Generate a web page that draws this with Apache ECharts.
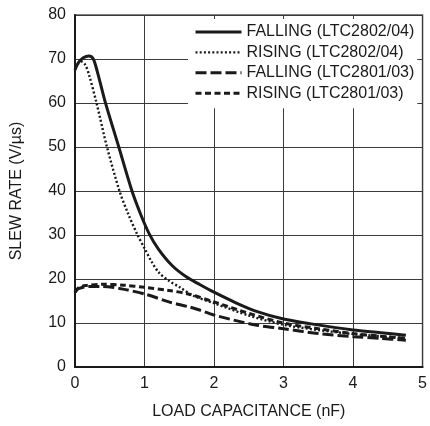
<!DOCTYPE html>
<html><head><meta charset="utf-8">
<script src="https://cdn.jsdelivr.net/npm/echarts@6/dist/echarts.min.js"></script>
<style>html,body{margin:0;padding:0;background:#fff}#c{width:430px;height:426px}</style>
</head><body><div id="c"></div>
<script>
// Data: [load capacitance nF, slew rate V/us]
const fallingLTC2802 = [[0,67.5],[0.05,69.2],[0.12,70.3],[0.2,70.7],[0.26,70.1],[0.32,67.2],[0.43,60.5],[0.63,50],[0.82,40],[0.95,34.5],[1.07,30.2],[1.2,26.8],[1.4,23],[1.6,20.5],[1.8,18.7],[2.0,17.0],[2.3,14.7],[2.6,12.7],[3.0,10.9],[3.4,9.8],[4.0,8.4],[4.4,7.8],[4.76,7.2]];
const risingLTC2802 = [[0,68],[0.05,69],[0.1,69.4],[0.15,68.6],[0.2,66.5],[0.31,60],[0.46,50],[0.64,40],[0.76,35],[0.9,30],[1.0,27],[1.1,24],[1.21,21.4],[1.35,19.6],[1.5,18.2],[1.7,16.2],[2.0,14.5],[2.5,11.7],[3.0,9.6],[3.5,8.4],[4.0,7.5],[4.4,7.0],[4.76,6.6]];
const fallingLTC2801 = [[0,17],[0.05,17.8],[0.2,18.3],[0.4,18.3],[0.69,17.7],[1.02,16.5],[1.35,14.8],[1.63,13.7],[1.78,13],[2.0,11.8],[2.58,9.6],[3.0,8.7],[3.5,7.6],[4.0,6.9],[4.4,6.5],[4.76,6.1]];
const risingLTC2801 = [[0,17],[0.05,18],[0.15,18.5],[0.4,18.8],[0.7,18.6],[1.0,18.1],[1.35,17.4],[1.63,16.6],[2.0,14.8],[2.5,12.2],[3.0,10.0],[3.5,8.7],[4.0,7.6],[4.4,7.0],[4.76,6.5]];
const seriesNames = ['FALLING (LTC2802/04)','RISING (LTC2802/04)','FALLING (LTC2801/03)','RISING (LTC2801/03)'];
const xTicks = [0,1,2,3,4,5];
const yTicks = [0,10,20,30,40,50,60,70,80];

const FONT = 'Liberation Sans, Arial, sans-serif';
const INK = '#1a1a1a';
const dashes = ['solid', [2,2.2], [11,4], [6,3.5]];
const widths = [3, 2.4, 3, 3];
const chart = echarts.init(document.getElementById('c'), null, {renderer:'canvas'});
const mk = (i, data) => ({
  name: seriesNames[i], type:'line', data, smooth:0.3, symbol:'none', z:3, color:INK,
  lineStyle:{color:INK, width:widths[i], type:dashes[i]}
});
chart.setOption({
  animation:false,
  backgroundColor:'#fff',
  grid:{left:75, right:3, top:15, bottom:59, show:true, borderColor:'#555', borderWidth:1.5},
  legend:{
    orient:'vertical', left:188, top:19, z:5,
    backgroundColor:'#fff', padding:[4,3,6,6],
    itemWidth:46, itemHeight:12, itemGap:2.4,
    itemStyle:{color:'rgba(0,0,0,0)', borderColor:'rgba(0,0,0,0)', borderWidth:0},
    textStyle:{fontFamily:FONT, fontSize:16, color:INK, lineHeight:18},
    data:seriesNames.map((n,i)=>({name:n, lineStyle:{width:widths[i], type:dashes[i], color:INK}}))
  },
  xAxis:{
    type:'value', min:xTicks[0], max:xTicks[xTicks.length-1], interval:1,
    name:'LOAD CAPACITANCE (nF)', nameLocation:'middle', nameGap:37,
    nameTextStyle:{fontFamily:FONT, fontSize:16, color:INK},
    axisLine:{show:true, lineStyle:{color:INK, width:2}},
    axisTick:{show:false},
    axisLabel:{fontFamily:FONT, fontSize:16, color:INK, margin:9},
    splitLine:{show:true, lineStyle:{color:'#3a3a3a', width:1}}
  },
  yAxis:{
    type:'value', min:yTicks[0], max:yTicks[yTicks.length-1], interval:10,
    name:'SLEW RATE (V/µs)', nameLocation:'middle', nameGap:50,
    nameTextStyle:{fontFamily:FONT, fontSize:16, color:INK},
    axisLine:{show:true, lineStyle:{color:INK, width:2}},
    axisTick:{show:false},
    axisLabel:{fontFamily:FONT, fontSize:16, color:INK, margin:9},
    splitLine:{show:true, lineStyle:{color:'#3a3a3a', width:1}}
  },
  series:[
    mk(0, fallingLTC2802),
    mk(1, risingLTC2802),
    mk(2, fallingLTC2801),
    mk(3, risingLTC2801)
  ]
});
</script></body></html>
